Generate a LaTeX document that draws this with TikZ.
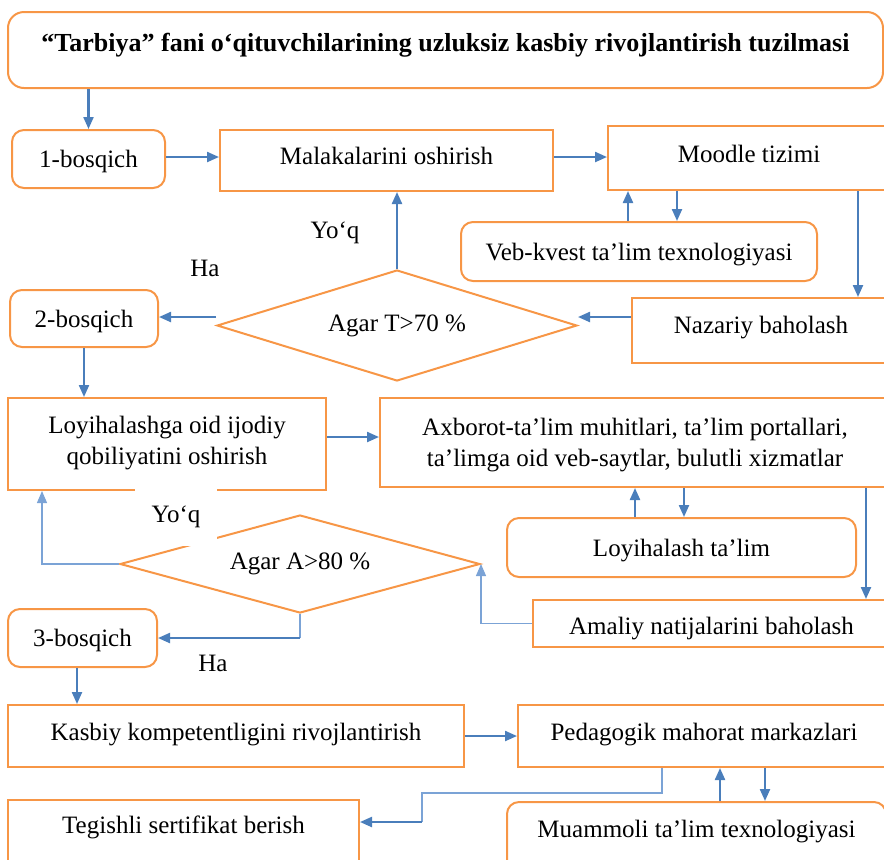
\documentclass[tikz,border=0pt]{standalone}
\usepackage{fontspec}
\setmainfont{Liberation Serif}
\usetikzlibrary{shapes.geometric,arrows.meta}
\definecolor{boxorange}{HTML}{F79646}
\definecolor{arrowblue}{HTML}{4A7EBB}
\definecolor{thinblue}{HTML}{7BA3D6}

\begin{document}
\begin{tikzpicture}[x=0.5pt,y=-0.5pt,
    font=\fontsize{12.5}{15.5}\selectfont,
    box/.style={draw=boxorange,line width=1pt,align=center,inner sep=0pt},
    rbox/.style={box,rounded corners=6pt},
    oneline/.style={text height=11.5pt,text depth=#1},
    oneline/.default=2.8pt,
    cond/.style={diamond,draw=boxorange,line width=1pt,inner sep=0pt},
    arr/.style={draw=arrowblue,line width=1.1pt,-{Triangle[length=6pt,width=5pt]}},
    link/.style={draw=thinblue,line width=0.6pt},
    linkarr/.style={link,-{Triangle[length=6pt,width=5pt]}}]
  \useasboundingbox (0,0) rectangle (884,859);
  \clip (0,0) rectangle (884,859);

  % Sarlavha
  \node[rbox,oneline=9.8pt,rounded corners=8pt,minimum width=437.5pt,minimum height=38pt,
        font=\fontsize{13}{15.5}\selectfont\bfseries] (title) at (445.5,50)
        {“Tarbiya” fani o‘qituvchilarining uzluksiz kasbiy rivojlantirish tuzilmasi};

  % 1-bosqich
  \node[rbox,oneline,minimum width=76.5pt,minimum height=29pt] (step1) at (88.5,159) {1-bosqich};
  \node[box,oneline=7.3pt,minimum width=166.5pt,minimum height=30.5pt] (mal) at (386.5,160.5) {Malakalarini oshirish};
  \node[box,oneline=6.8pt,minimum width=141pt,minimum height=32pt] (moodle) at (749,158) {Moodle tizimi};
  \node[rbox,oneline,minimum width=178pt,minimum height=29.5pt] (veb) at (639,251.5) {Veb-kvest ta’lim texnologiyasi};
  \node[box,oneline=8.3pt,minimum width=129pt,minimum height=32.5pt] (naz) at (761,330.5) {Nazariy baholash};
  \node[cond,aspect=3.2,minimum width=180pt,minimum height=55.5pt] (dia1) at (397,325.5) {Agar T>70 \%};
  \node[rbox,oneline,minimum width=74pt,minimum height=28.5pt] (step2) at (84,318.5) {2-bosqich};
  \node (yoq1) at (335,233) {Yo‘q};
  \node (ha1) at (205,268) {Ha};

  % 2-bosqich
  \node[box,text height=27pt,text depth=6.8pt,minimum width=159pt,minimum height=46pt] (loy) at (167,444)
        {Loyihalashga oid ijodiy\\qobiliyatini oshirish};
  \node[box,text height=27pt,text depth=2.8pt,minimum width=255pt,minimum height=44.5pt] (axb) at (635,442.5)
        {Axborot-ta’lim muhitlari, ta’lim portallari,\\ta’limga oid veb-saytlar, bulutli xizmatlar};
  \node[rbox,oneline,minimum width=174.5pt,minimum height=29.5pt] (lta) at (681.5,547.5) {Loyihalash ta’lim};
  \node[box,oneline=0.3pt,minimum width=178.5pt,minimum height=23.5pt] (ama) at (711.5,623.5) {Amaliy natijalarini baholash};
  \node[cond,aspect=3.6,minimum width=180pt,minimum height=49pt] (dia2) at (300,564) {Agar A>80 \%};
  \node[rbox,oneline,minimum width=74.5pt,minimum height=29pt] (step3) at (82.5,638) {3-bosqich};
  \node[fill=white,inner sep=0pt,minimum width=41pt,minimum height=29.5pt] (yoq2) at (176,516.5) {Yo‘q};
  \node (ha2) at (213,663) {Ha};

  % 3-bosqich
  \node[box,oneline=6.8pt,minimum width=228pt,minimum height=31pt] (kas) at (236,736) {Kasbiy kompetentligini rivojlantirish};
  \node[box,oneline=6.8pt,minimum width=186pt,minimum height=31pt] (ped) at (704,736) {Pedagogik mahorat markazlari};
  \node[box,oneline=17.8pt,minimum width=175.5pt,minimum height=40pt] (teg) at (183.5,840) {Tegishli sertifikat berish};
  \node[rbox,oneline=14.8pt,minimum width=189.5pt,minimum height=39pt] (muam) at (696.5,841) {Muammoli ta’lim texnologiyasi};

  % Strelkalar
  \draw[arr] (step1.north |- title.south) -- (step1.north);
  \draw[arr] (step1.east |- 0,157) -- (mal.west |- 0,157);
  \draw[arr] (mal.east |- 0,157) -- (moodle.west |- 0,157);
  \draw[arr] (628,0 |- veb.north) -- (628,0 |- moodle.south);
  \draw[arr] (677,0 |- moodle.south) -- (677,0 |- veb.north);
  \draw[arr] (858,0 |- moodle.south) -- (858,0 |- naz.north);
  \draw[arr] (naz.west |- 0,317) -- (dia1.east |- 0,317);
  \draw[arr] (dia1.north) -- (mal.south -| dia1.north);
  \draw[arr] (dia1.west |- 0,317) -- (step2.east |- 0,317);
  \draw[arr] (step2.south) -- (loy.north -| step2.south);
  \draw[arr] (loy.east |- 0,437) -- (axb.west |- 0,437);
  \draw[arr] (635,0 |- lta.north) -- (635,0 |- axb.south);
  \draw[arr] (684,0 |- axb.south) -- (684,0 |- lta.north);
  \draw[arr] (866,0 |- axb.south) -- (866,0 |- ama.north);
  \draw[linkarr] (ama.west) -| (dia2.east);
  \draw[linkarr] (dia2.west) -| (42,0 |- loy.south);
  \draw[link] (dia2.south) -- (dia2.south |- step3.east);
  \draw[arr] (dia2.south |- step3.east) -- (step3.east);
  \draw[arr] (77,0 |- step3.south) -- (77,0 |- kas.north);
  \draw[arr] (kas.east) -- (ped.west);
  \draw[arr] (720,0 |- muam.north) -- (720,0 |- ped.south);
  \draw[arr] (765,0 |- ped.south) -- (765,0 |- muam.north);
  \coordinate (turn) at (422,822);
  \draw[link] (662,0 |- ped.south) |- (turn |- 0,793) -- (turn);
  \draw[arr] (turn) -- (teg.east |- turn);
\end{tikzpicture}
\end{document}
